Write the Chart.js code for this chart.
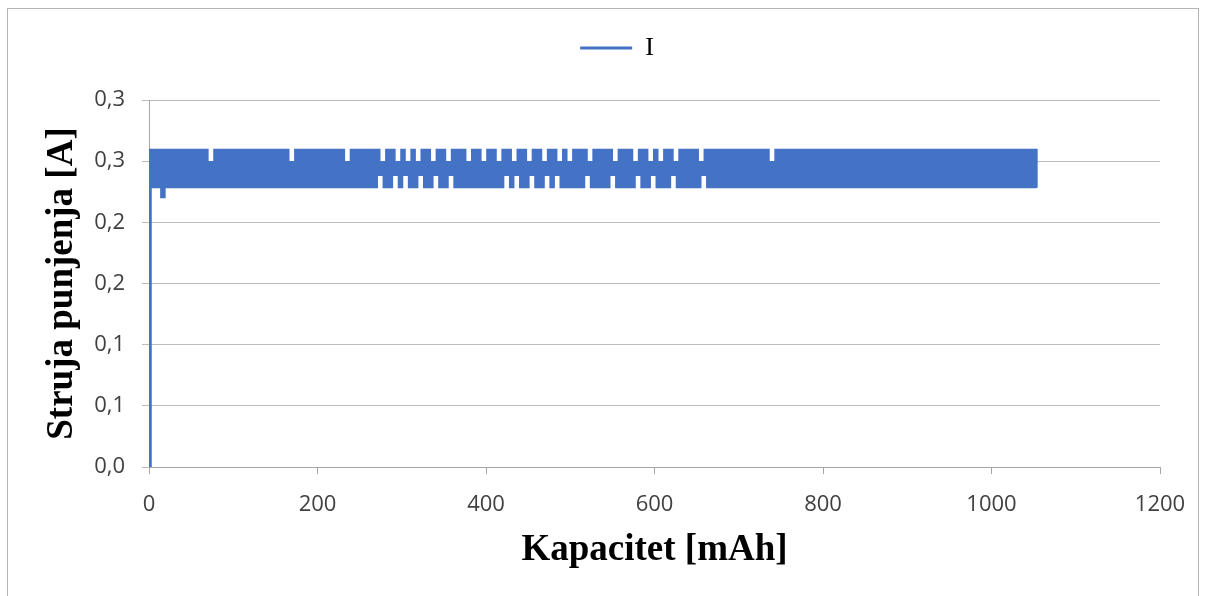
<!DOCTYPE html>
<html>
<head>
<meta charset="utf-8">
<script src="https://cdn.jsdelivr.net/npm/chart.js@4.4.1/dist/chart.umd.min.js"></script>
<style>
    html, body { margin: 0; padding: 0; background: #fff; overflow: hidden; }
    #wrap { position: relative; width: 1206px; height: 596px; }
    #frame {
        position: absolute; left: 7px; top: 8px; width: 1192px; height: 700px;
        border: 1px solid #b4b4b4; box-sizing: border-box;
    }
    #chart { position: absolute; left: 0; top: 0; }
</style>
</head>
<body>
<div id="wrap">
    <div id="frame"></div>
    <canvas id="chart" width="1206" height="596"></canvas>
</div>
<script>
// Charging log: capacity [mAh] vs. charging current [A]
const capacity = [
    0, 1.5,
    3, 6, 9, 12, 15, 18, 21, 24, 27, 30,
    33, 36, 39, 42, 45, 48, 51, 54, 57, 60,
    63, 66, 69, 72, 75, 78, 81, 84, 87, 90,
    93, 96, 99, 102, 105, 108, 111, 114, 117, 120,
    123, 126, 129, 132, 135, 138, 141, 144, 147, 150,
    153, 156, 159, 162, 165, 168, 171, 174, 177, 180,
    183, 186, 189, 192, 195, 198, 201, 204, 207, 210,
    213, 216, 219, 222, 225, 228, 231, 234, 237, 240,
    243, 246, 249, 252, 255, 258, 261, 264, 267, 270,
    273, 276, 279, 282, 285, 288, 291, 294, 297, 300,
    303, 306, 309, 312, 315, 318, 321, 324, 327, 330,
    333, 336, 339, 342, 345, 348, 351, 354, 357, 360,
    363, 366, 369, 372, 375, 378, 381, 384, 387, 390,
    393, 396, 399, 402, 405, 408, 411, 414, 417, 420,
    423, 426, 429, 432, 435, 438, 441, 444, 447, 450,
    453, 456, 459, 462, 465, 468, 471, 474, 477, 480,
    483, 486, 489, 492, 495, 498, 501, 504, 507, 510,
    513, 516, 519, 522, 525, 528, 531, 534, 537, 540,
    543, 546, 549, 552, 555, 558, 561, 564, 567, 570,
    573, 576, 579, 582, 585, 588, 591, 594, 597, 600,
    603, 606, 609, 612, 615, 618, 621, 624, 627, 630,
    633, 636, 639, 642, 645, 648, 651, 654, 657, 660,
    663, 666, 669, 672, 675, 678, 681, 684, 687, 690,
    693, 696, 699, 702, 705, 708, 711, 714, 717, 720,
    723, 726, 729, 732, 735, 738, 741, 744, 747, 750,
    753, 756, 759, 762, 765, 768, 771, 774, 777, 780,
    783, 786, 789, 792, 795, 798, 801, 804, 807, 810,
    813, 816, 819, 822, 825, 828, 831, 834, 837, 840,
    843, 846, 849, 852, 855, 858, 861, 864, 867, 870,
    873, 876, 879, 882, 885, 888, 891, 894, 897, 900,
    903, 906, 909, 912, 915, 918, 921, 924, 927, 930,
    933, 936, 939, 942, 945, 948, 951, 954, 957, 960,
    963, 966, 969, 972, 975, 978, 981, 984, 987, 990,
    993, 996, 999, 1002, 1005, 1008, 1011, 1014, 1017, 1020,
    1023, 1026, 1029, 1032, 1035, 1038, 1041, 1044, 1047, 1050,
    1053
];

const current = [
    0, 0.259,
    0.229, 0.259, 0.229, 0.259, 0.221, 0.259, 0.229, 0.259, 0.229, 0.259,
    0.229, 0.259, 0.229, 0.259, 0.229, 0.259, 0.229, 0.259, 0.229, 0.259,
    0.229, 0.259, 0.229, 0.249, 0.229, 0.259, 0.229, 0.259, 0.229, 0.259,
    0.229, 0.259, 0.229, 0.259, 0.229, 0.259, 0.229, 0.259, 0.229, 0.259,
    0.229, 0.259, 0.229, 0.259, 0.229, 0.259, 0.229, 0.259, 0.229, 0.259,
    0.229, 0.259, 0.229, 0.259, 0.229, 0.249, 0.229, 0.259, 0.229, 0.259,
    0.229, 0.259, 0.229, 0.259, 0.229, 0.259, 0.229, 0.259, 0.229, 0.259,
    0.229, 0.259, 0.229, 0.259, 0.229, 0.259, 0.229, 0.249, 0.229, 0.259,
    0.229, 0.259, 0.229, 0.259, 0.229, 0.259, 0.229, 0.259, 0.229, 0.259,
    0.239, 0.249, 0.229, 0.259, 0.229, 0.259, 0.239, 0.249, 0.229, 0.259,
    0.239, 0.249, 0.229, 0.259, 0.229, 0.249, 0.239, 0.259, 0.229, 0.259,
    0.229, 0.249, 0.239, 0.259, 0.229, 0.259, 0.229, 0.249, 0.239, 0.259,
    0.229, 0.259, 0.229, 0.259, 0.229, 0.249, 0.229, 0.259, 0.229, 0.259,
    0.229, 0.249, 0.229, 0.259, 0.229, 0.259, 0.229, 0.249, 0.229, 0.259,
    0.239, 0.259, 0.229, 0.249, 0.239, 0.259, 0.229, 0.259, 0.229, 0.249,
    0.239, 0.259, 0.229, 0.259, 0.229, 0.249, 0.239, 0.259, 0.229, 0.259,
    0.239, 0.249, 0.229, 0.259, 0.229, 0.249, 0.229, 0.259, 0.229, 0.259,
    0.229, 0.259, 0.239, 0.249, 0.229, 0.259, 0.229, 0.259, 0.229, 0.259,
    0.229, 0.259, 0.239, 0.249, 0.229, 0.259, 0.229, 0.259, 0.229, 0.259,
    0.229, 0.249, 0.239, 0.259, 0.229, 0.259, 0.229, 0.249, 0.239, 0.259,
    0.229, 0.249, 0.229, 0.259, 0.229, 0.259, 0.239, 0.249, 0.229, 0.259,
    0.229, 0.259, 0.229, 0.259, 0.229, 0.259, 0.229, 0.249, 0.239, 0.259,
    0.229, 0.259, 0.229, 0.259, 0.229, 0.259, 0.229, 0.259, 0.229, 0.259,
    0.229, 0.259, 0.229, 0.259, 0.229, 0.259, 0.229, 0.259, 0.229, 0.259,
    0.229, 0.259, 0.229, 0.259, 0.229, 0.249, 0.229, 0.259, 0.229, 0.259,
    0.229, 0.259, 0.229, 0.259, 0.229, 0.259, 0.229, 0.259, 0.229, 0.259,
    0.229, 0.259, 0.229, 0.259, 0.229, 0.259, 0.229, 0.259, 0.229, 0.259,
    0.229, 0.259, 0.229, 0.259, 0.229, 0.259, 0.229, 0.259, 0.229, 0.259,
    0.229, 0.259, 0.229, 0.259, 0.229, 0.259, 0.229, 0.259, 0.229, 0.259,
    0.229, 0.259, 0.229, 0.259, 0.229, 0.259, 0.229, 0.259, 0.229, 0.259,
    0.229, 0.259, 0.229, 0.259, 0.229, 0.259, 0.229, 0.259, 0.229, 0.259,
    0.229, 0.259, 0.229, 0.259, 0.229, 0.259, 0.229, 0.259, 0.229, 0.259,
    0.229, 0.259, 0.229, 0.259, 0.229, 0.259, 0.229, 0.259, 0.229, 0.259,
    0.229, 0.259, 0.229, 0.259, 0.229, 0.259, 0.229, 0.259, 0.229, 0.259,
    0.229, 0.259, 0.229, 0.259, 0.229, 0.259, 0.229, 0.259, 0.229, 0.259,
    0.229, 0.259, 0.229, 0.259, 0.229, 0.259, 0.229, 0.259, 0.229, 0.259,
    0.229
];

const seriesLabel = 'I';
const xTitle = 'Kapacitet [mAh]';
const yTitle = 'Struja punjenja [A]';

const lineBlue = '#4472C4';
const gridGrey = '#bcbcbc';
const axisGrey = '#a6a6a6';
const tickFont = { family: 'Open Sans', size: 22 };
const titleFont = { family: 'Liberation Serif', size: 37, weight: 'bold' };

// Excel places the legend a little right of the canvas centre and above the plot
const legendNudge = {
    id: 'legendNudge',
    afterLayout(chart) {
        const lg = chart.legend;
        lg.left += 37; lg.right += 37;
        lg.top -= 29; lg.bottom -= 29;
    }
};

const points = capacity.map((x, i) => ({ x: x, y: current[i] }));

new Chart(document.getElementById('chart'), {
    type: 'line',
    data: {
        datasets: [{
            label: seriesLabel,
            data: points,
            borderColor: lineBlue,
            backgroundColor: lineBlue,
            borderWidth: 3,
            borderCapStyle: 'round',
            pointRadius: 0,
            pointStyle: 'line',
            stepped: true,
            fill: false,
        }],
    },
    options: {
        responsive: false,
        devicePixelRatio: 1,
        animation: false,
        layout: { padding: { left: 0, right: 46, top: 54, bottom: 0 } },
        plugins: {
            tooltip: { enabled: false },
            legend: {
                position: 'top',
                labels: {
                    usePointStyle: true,
                    pointStyleWidth: 52,
                    color: '#000',
                    font: { family: 'Liberation Serif', size: 26 },
                },
            },
        },
        scales: {
            x: {
                type: 'linear',
                min: 0,
                max: 1200,
                ticks: {
                    stepSize: 200,
                    color: '#404040',
                    font: tickFont,
                    padding: 18,
                    maxRotation: 0,
                    callback: (v) => String(v),
                },
                grid: { drawOnChartArea: false, drawTicks: true, tickLength: 7, color: axisGrey },
                border: { color: axisGrey, width: 1 },
                title: {
                    display: true, text: xTitle, color: '#000', font: titleFont,
                    padding: { top: 0, bottom: 23 },
                },
                afterFit: (scale) => { scale.height = 129; },
            },
            y: {
                min: 0,
                max: 0.3,
                ticks: {
                    stepSize: 0.05,
                    color: '#404040',
                    font: tickFont,
                    padding: 17,
                    callback: (v) => (Math.round(v * 10 + 1e-9) / 10).toFixed(1).replace('.', ','),
                },
                grid: { color: gridGrey, tickLength: 7 },
                border: { color: axisGrey, width: 1 },
                title: {
                    display: true, text: yTitle, color: '#000', font: titleFont,
                    padding: { top: 40, bottom: 0 },
                },
                afterFit: (scale) => { scale.width = 149; },
            },
        },
    },
    plugins: [legendNudge],
});
</script>
</body>
</html>
